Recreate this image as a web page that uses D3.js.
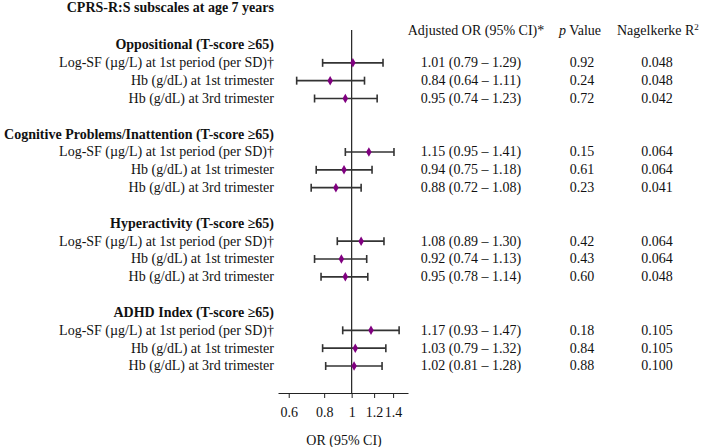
<!DOCTYPE html>
<html lang="en">
<head>
  <meta charset="UTF-8">
  <title>CPRS-R:S forest plot</title>
  <script src="https://d3js.org/d3.v7.min.js"></script>
  <style>
    body { margin: 0; background: #fff; }
    svg text { font-family: "Liberation Serif", "Times New Roman", serif; font-size: 14px; fill: #111; }
    .bold { font-weight: bold; }
    .ci { stroke: #333; stroke-width: 1.6px; }
    .axis path, .axis line { stroke: #222; }
  </style>
</head>
<body>
  <svg id="chart" width="708" height="447"></svg>

  <script>
    const groups = [
      "Oppositional (T-score \u226565)",
      "Cognitive Problems/Inattention (T-score \u226565)",
      "Hyperactivity (T-score \u226565)",
      "ADHD Index (T-score \u226565)"
    ];
    const exposures = [
      "Log-SF (\u00b5g/L) at 1st period (per SD)\u2020",
      "Hb (g/dL) at 1st trimester",
      "Hb (g/dL) at 3rd trimester"
    ];
    const orValues = [1.01, 0.84, 0.95, 1.15, 0.94, 0.88, 1.08, 0.92, 0.95, 1.17, 1.03, 1.02];
    const ciLow    = [0.79, 0.64, 0.74, 0.95, 0.75, 0.72, 0.89, 0.74, 0.78, 0.93, 0.79, 0.81];
    const ciHigh   = [1.29, 1.11, 1.23, 1.41, 1.18, 1.08, 1.30, 1.13, 1.14, 1.47, 1.32, 1.28];
    const pValues  = ["0.92", "0.24", "0.72", "0.15", "0.61", "0.23", "0.42", "0.43", "0.60", "0.18", "0.84", "0.88"];
    const r2Values = ["0.048", "0.048", "0.042", "0.064", "0.064", "0.041", "0.064", "0.064", "0.048", "0.105", "0.105", "0.100"];
    const tickValues = [0.6, 0.8, 1, 1.2, 1.4];

    // rows: each group takes 5 slots (header, 3 rows, blank)
    const rows = orValues.map((v, i) => {
      const g = Math.floor(i / 3), k = i % 3;
      return { slot: g * 5 + k + 1, label: exposures[k], or: v, lo: ciLow[i], hi: ciHigh[i], p: pValues[i], r2: r2Values[i] };
    });

    const svg = d3.select("#chart");
    const x = d3.scaleLog().domain([0.55, 1.58]).range([278, 408]);
    const y = d3.scaleLinear().domain([0, 18]).range([45, 366]);
    const labelX = 274, orX = 471, pX = 582, r2X = 657;
    const axisY = 393;

    svg.append("text").attr("class", "bold").attr("x", labelX).attr("y", 12)
      .attr("text-anchor", "end").text("CPRS-R:S subscales at age 7 years");

    // column headers
    svg.append("text").attr("x", 476).attr("y", 35).attr("text-anchor", "middle").text("Adjusted OR (95% CI)*");
    const ph = svg.append("text").attr("x", 580).attr("y", 35).attr("text-anchor", "middle");
    ph.append("tspan").attr("font-style", "italic").text("p");
    ph.append("tspan").text(" Value");
    const rh = svg.append("text").attr("x", 617).attr("y", 35);
    rh.append("tspan").text("Nagelkerke R");
    rh.append("tspan").attr("dy", -5).attr("font-size", "9px").text("2");

    // group headers
    svg.selectAll(".ghead").data(groups).join("text")
      .attr("class", "ghead bold")
      .attr("x", labelX).attr("y", (d, i) => y(i * 5)).attr("dy", "0.32em")
      .attr("text-anchor", "end").text(d => d);

    // row labels
    svg.selectAll(".rlabel").data(rows).join("text")
      .attr("class", "rlabel")
      .attr("x", labelX).attr("y", d => y(d.slot)).attr("dy", "0.32em")
      .attr("text-anchor", "end").text(d => d.label);

    // reference line at OR = 1
    svg.append("line")
      .attr("x1", x(1)).attr("x2", x(1)).attr("y1", 30).attr("y2", axisY)
      .attr("stroke", "#222").attr("stroke-width", 1.2);

    // CI bars
    const ci = svg.selectAll(".cirow").data(rows).join("g").attr("class", "cirow");
    ci.append("line").attr("class", "ci")
      .attr("x1", d => x(d.lo)).attr("x2", d => x(d.hi))
      .attr("y1", d => y(d.slot)).attr("y2", d => y(d.slot));
    ci.append("line").attr("class", "ci")
      .attr("x1", d => x(d.lo)).attr("x2", d => x(d.lo))
      .attr("y1", d => y(d.slot) - 4).attr("y2", d => y(d.slot) + 4);
    ci.append("line").attr("class", "ci")
      .attr("x1", d => x(d.hi)).attr("x2", d => x(d.hi))
      .attr("y1", d => y(d.slot) - 4).attr("y2", d => y(d.slot) + 4);
    ci.append("path")
      .attr("d", d3.symbol(d3.symbolDiamond, 26))
      .attr("transform", d => `translate(${x(d.or)},${y(d.slot)})`)
      .attr("fill", "#800080");

    // value columns
    svg.selectAll(".orval").data(rows).join("text")
      .attr("x", orX).attr("y", d => y(d.slot)).attr("dy", "0.32em").attr("text-anchor", "middle")
      .text(d => `${d.or.toFixed(2)} (${d.lo.toFixed(2)} \u2013 ${d.hi.toFixed(2)})`);
    svg.selectAll(".pval").data(rows).join("text")
      .attr("x", pX).attr("y", d => y(d.slot)).attr("dy", "0.32em").attr("text-anchor", "middle")
      .text(d => d.p);
    svg.selectAll(".r2val").data(rows).join("text")
      .attr("x", r2X).attr("y", d => y(d.slot)).attr("dy", "0.32em").attr("text-anchor", "middle")
      .text(d => d.r2);

    // x axis
    const axis = svg.append("g").attr("class", "axis")
      .attr("transform", `translate(0,${axisY})`)
      .call(d3.axisBottom(x).tickValues(tickValues).tickFormat(d3.format("")).tickSize(5).tickSizeOuter(0).tickPadding(9));
    axis.selectAll("text").attr("font-family", null).attr("font-size", null).attr("fill", null);

    svg.append("text").attr("x", 344).attr("y", 445).attr("text-anchor", "middle").text("OR (95% CI)");
  </script>
</body>
</html>
